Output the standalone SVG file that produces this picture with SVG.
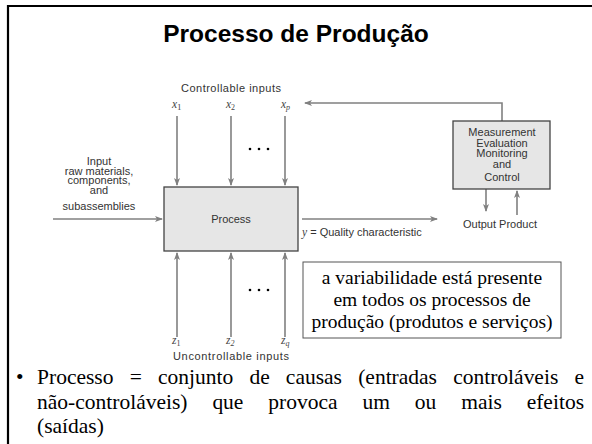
<svg xmlns="http://www.w3.org/2000/svg" width="592" height="444" viewBox="0 0 592 444">
<style>
.d{font-family:"Liberation Sans",Arial,sans-serif;font-size:11px;fill:#333}
.v{font-family:"Liberation Serif","Times New Roman",serif;font-style:italic;font-size:11.5px;fill:#444}
.t{font-family:"Liberation Serif","Times New Roman",serif;font-size:19.5px;fill:#000}
.b{font-family:"Liberation Serif","Times New Roman",serif;font-size:21.5px;fill:#000}
.ar{stroke:#808080;stroke-width:1.6;fill:none;marker-end:url(#ah)}
.box{fill:#e6e6e6;stroke:#444;stroke-width:1.3}
.dot{fill:#000}
</style>
<defs>
<marker id="ah" markerWidth="8" markerHeight="6" refX="7" refY="3" orient="auto" markerUnits="userSpaceOnUse">
<path d="M0,0 L8,3 L0,6 L2,3 Z" fill="#808080"/>
</marker>
</defs>
<rect width="592" height="444" fill="#fff"/>
<path d="M8,444 V6 H592" stroke="#000" stroke-width="2.2" fill="none"/>
<text x="296" y="42" text-anchor="middle" font-family="Liberation Sans, Arial, sans-serif" font-weight="bold" font-size="24.5" fill="#000">Processo de Produção</text>

<g id="connectors">
<line class="ar" x1="177" y1="116" x2="177" y2="185"/>
<line class="ar" x1="231" y1="116" x2="231" y2="185"/>
<line class="ar" x1="285" y1="116" x2="285" y2="185"/>
<line class="ar" x1="177" y1="337" x2="177" y2="253"/>
<line class="ar" x1="231" y1="337" x2="231" y2="253"/>
<line class="ar" x1="285" y1="337" x2="285" y2="253"/>
<line class="ar" x1="53" y1="219" x2="162" y2="219"/>
<line class="ar" x1="302" y1="219" x2="437" y2="219"/>
<polyline class="ar" points="502,121 502,103 305,103"/>
<line class="ar" x1="486" y1="189" x2="486" y2="211"/>
<line class="ar" x1="517" y1="215" x2="517" y2="191"/>
</g>

<g id="process">
<rect class="box" x="164" y="187" width="134" height="64"/>
<text class="d" x="231" y="223" text-anchor="middle" font-size="11.5">Process</text>
</g>

<g id="measurement">
<rect class="box" x="453" y="121" width="97" height="68"/>
<text class="d" x="502" y="136" text-anchor="middle" font-size="11.5">Measurement</text>
<text class="d" x="502" y="146.5" text-anchor="middle" font-size="11.5">Evaluation</text>
<text class="d" x="502" y="157" text-anchor="middle" font-size="11.5">Monitoring</text>
<text class="d" x="502" y="168" text-anchor="middle" font-size="11.5">and</text>
<text class="d" x="502" y="181" text-anchor="middle" font-size="11.5">Control</text>
</g>

<g id="controllable">
<text class="d" x="231" y="92" text-anchor="middle" textLength="100" lengthAdjust="spacing">Controllable inputs</text>
<text class="v" x="172" y="108">x<tspan font-style="normal" font-size="9" dy="2">1</tspan></text>
<text class="v" x="226" y="108">x<tspan font-style="normal" font-size="8" dy="2">2</tspan></text>
<text class="v" x="281" y="108">x<tspan font-size="8" dy="2">p</tspan></text>
<circle class="dot" cx="250" cy="149" r="1.3"/><circle class="dot" cx="259" cy="149" r="1.3"/><circle class="dot" cx="268" cy="149" r="1.3"/>
</g>

<g id="uncontrollable">
<text class="v" x="172" y="344">z<tspan font-style="normal" font-size="8" dy="2">1</tspan></text>
<text class="v" x="226" y="344">z<tspan font-size="8" dy="2">2</tspan></text>
<text class="v" x="281" y="344">z<tspan font-size="8" dy="2">q</tspan></text>
<text class="d" x="231" y="360" text-anchor="middle" textLength="116" lengthAdjust="spacing">Uncontrollable inputs</text>
<circle class="dot" cx="250" cy="290" r="1.3"/><circle class="dot" cx="259" cy="290" r="1.3"/><circle class="dot" cx="268" cy="290" r="1.3"/>
</g>

<g id="input">
<text class="d" x="99" y="165" text-anchor="middle">Input</text>
<text class="d" x="99" y="174.5" text-anchor="middle">raw materials,</text>
<text class="d" x="99" y="184" text-anchor="middle">components,</text>
<text class="d" x="99" y="194" text-anchor="middle">and</text>
<text class="d" x="99" y="210" text-anchor="middle">subassemblies</text>
</g>

<g id="output">
<text x="302" y="236"><tspan class="v">y</tspan><tspan class="d" font-size="11.5"> = Quality characteristic</tspan></text>
<text class="d" x="500" y="228" text-anchor="middle" font-size="11.5">Output Product</text>
</g>

<g id="note">
<rect x="303" y="262" width="258" height="76" fill="#fff" stroke="#555" stroke-width="1"/>
<text class="t" x="432" y="284" text-anchor="middle">a variabilidade está presente</text>
<text class="t" x="432" y="306" text-anchor="middle">em todos os processos de</text>
<text class="t" x="432" y="328" text-anchor="middle">produção (produtos e serviços)</text>
</g>

<g id="bullet">
<text class="b" x="16" y="384">•</text>
<text class="b" x="37" y="384" word-spacing="10.8" textLength="547" lengthAdjust="spacing">Processo = conjunto de causas (entradas controláveis e</text>
<text class="b" x="37" y="409" word-spacing="19.5" textLength="547" lengthAdjust="spacing">não-controláveis) que provoca um ou mais efeitos</text>
<text class="b" x="37" y="433">(saídas)</text>
</g>
</svg>
